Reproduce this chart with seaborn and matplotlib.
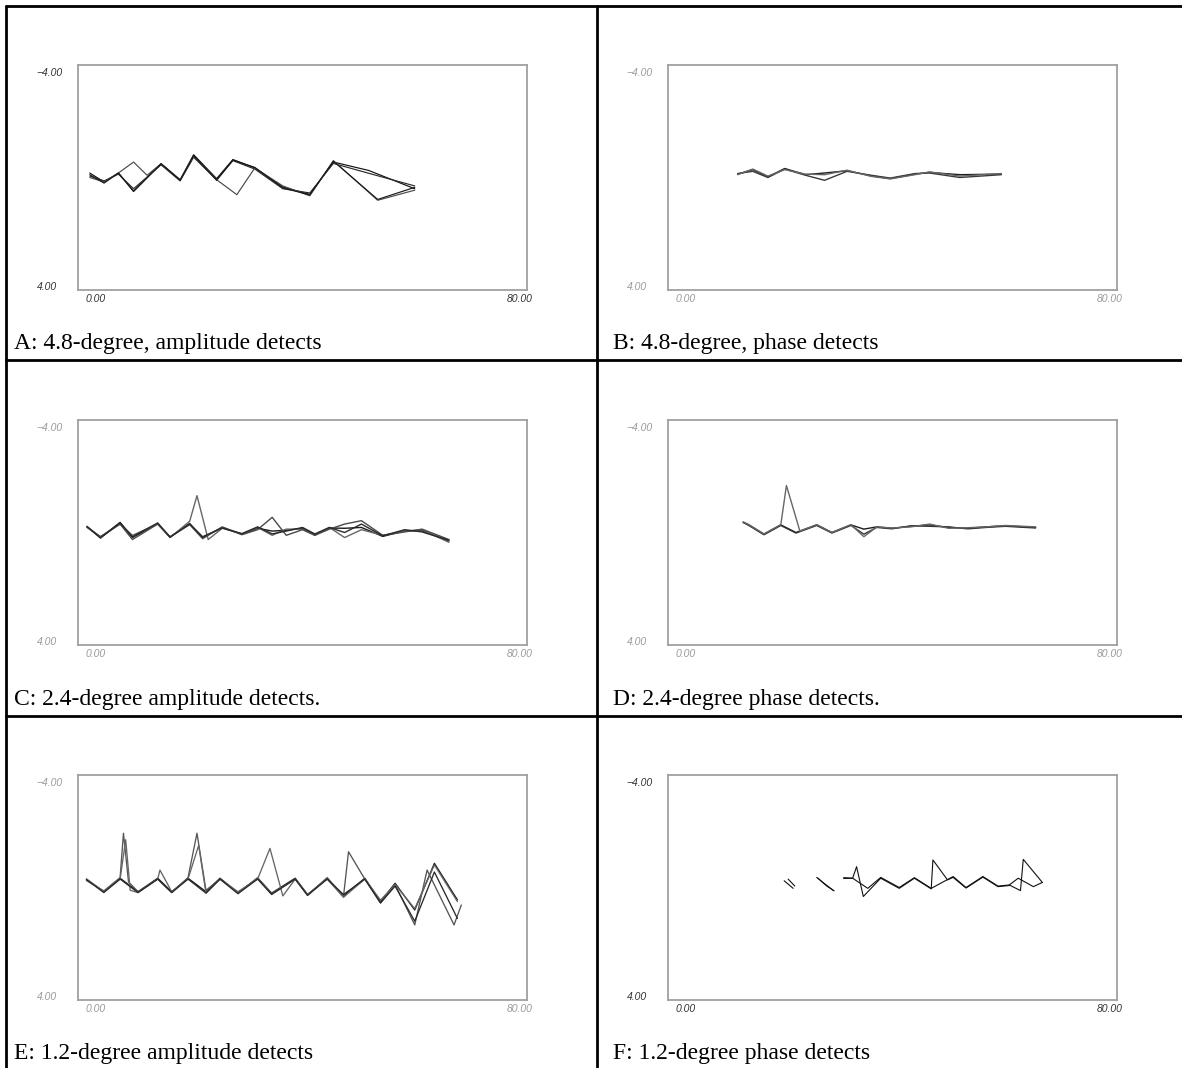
import numpy as np
import pandas as pd
import matplotlib
matplotlib.use("Agg")
import matplotlib.pyplot as plt
from matplotlib.lines import Line2D
import seaborn as sns

sns.set_theme(style="white")
plt.rcParams['font.family'] = ['Liberation Sans', 'DejaVu Sans']

# ---------------- data ----------------
captions = ["A: 4.8-degree, amplitude detects", "B: 4.8-degree, phase detects",
            "C: 2.4-degree amplitude detects.", "D: 2.4-degree phase detects.",
            "E: 1.2-degree amplitude detects", "F: 1.2-degree phase detects"]
y_tick_labels = ["\u22124.00", "4.00"]
x_tick_labels = ["0.00", "80.00"]

# Panel A
A_x1 = [2.1, 4.65, 7.2, 9.9, 14.8, 18.2, 20.6, 24.7, 27.6, 31.5, 36.5, 41.3, 45.5, 51.8, 60.0]
A_y1 = [-0.16, 0.16, -0.16, 0.48, -0.49, 0.08, -0.81, 0.04, -0.64, -0.34, 0.34, 0.60, -0.55, -0.25, 0.40]
A_x2 = [2.1, 4.65, 7.2, 9.9, 14.8, 18.2, 20.6, 24.7, 27.6, 31.5, 36.5, 41.3, 45.5, 51.8, 60.0]
A_y2 = [-0.05, 0.12, -0.12, 0.40, -0.45, 0.12, -0.72, 0.08, -0.60, -0.30, 0.40, 0.55, -0.50, -0.15, 0.30]
A_x3 = [2.1, 4.65, 7.2, 9.9, 12.3, 14.8, 18.2, 20.6, 24.7, 28.3, 31.5, 36.5, 41.3, 45.5, 53.4, 60.0]
A_y3 = [0.0, 0.16, -0.16, -0.55, -0.08, -0.49, 0.08, -0.75, 0.08, 0.61, -0.34, 0.30, 0.65, -0.60, 0.81, 0.45]
A_x4 = [2.1, 4.65, 7.2, 9.9, 14.8, 18.2, 20.6, 24.7, 27.6, 31.5, 36.5, 41.3, 45.5, 53.4, 60.0]
A_y4 = [-0.10, 0.20, -0.16, 0.50, -0.49, 0.10, -0.78, 0.10, -0.62, -0.36, 0.37, 0.62, -0.58, 0.78, 0.35]

# Panel B
B_x = [12.4, 15.1, 17.8, 20.8, 24.5, 27.9, 31.9, 36.2, 39.6, 44.0, 46.6, 52.0, 59.4]
B_y1 = [-0.12, -0.28, -0.02, -0.32, -0.10, -0.16, -0.24, -0.06, 0.04, -0.12, -0.18, -0.10, -0.12]
B_y2 = [-0.14, -0.22, 0.00, -0.30, -0.08, 0.10, -0.22, -0.08, 0.02, -0.14, -0.16, 0.00, -0.10]
B_y3 = [-0.10, -0.30, -0.05, -0.28, -0.12, -0.10, -0.26, -0.04, 0.05, -0.10, -0.20, -0.05, -0.14]

# Panel C
C_x = [1.6, 4.0, 7.5, 9.7, 14.2, 16.4, 19.9, 22.2, 25.7, 29.2, 32.0, 34.6, 37.1, 40.0, 42.2, 44.8, 47.5, 50.5, 54.3, 58.2, 61.3, 66.1]
C_y1 = [-0.20, 0.18, -0.36, 0.18, -0.32, 0.16, -0.32, 0.18, -0.18, 0.06, -0.15, -0.05, -0.08, -0.15, 0.08, -0.16, -0.15, -0.18, 0.14, -0.06, -0.06, 0.30]
C_y3 = [-0.20, 0.15, -0.30, 0.25, -0.30, 0.15, -0.28, 0.22, -0.20, 0.08, -0.10, -0.54, 0.10, -0.10, 0.10, -0.12, -0.30, -0.42, 0.10, -0.02, -0.12, 0.25]
C_y4 = [-0.22, 0.20, -0.34, 0.15, -0.34, 0.17, -0.30, 0.15, -0.16, 0.04, -0.20, 0.05, -0.05, -0.18, 0.05, -0.18, 0.00, -0.30, 0.12, -0.10, -0.02, 0.28]
C_x2 = [1.6, 4.0, 7.5, 9.7, 14.2, 16.4, 19.9, 21.2, 23.2, 25.7, 29.2, 32.0, 34.6, 37.1, 40.0, 42.2, 44.8, 47.5, 50.5, 54.3, 58.2, 61.3, 66.1]
C_y2 = [-0.18, 0.15, -0.30, 0.10, -0.30, 0.18, -0.40, -1.31, 0.25, -0.15, 0.05, -0.18, 0.10, -0.12, -0.12, 0.10, -0.18, 0.18, -0.10, 0.10, -0.05, -0.10, 0.35]

# Panel D
D_x = [13.4, 14.4, 17.1, 20.1, 22.8, 26.5, 29.2, 32.6, 34.9, 37.2, 39.9, 43.3, 46.6, 50.0, 53.4, 56.7, 60.1, 65.5]
D_y1 = [-0.36, -0.27, 0.06, -0.27, 0.00, -0.27, 0.00, -0.27, -0.12, -0.20, -0.15, -0.22, -0.27, -0.18, -0.15, -0.20, -0.24, -0.18]
D_y2 = [-0.36, -0.25, 0.08, -0.25, 0.02, -0.25, 0.02, -0.25, 0.06, -0.18, -0.13, -0.24, -0.22, -0.20, -0.13, -0.18, -0.22, -0.16]
D_x3 = [13.4, 14.4, 17.1, 20.1, 21.1, 23.5, 26.5, 29.2, 32.6, 34.9, 37.2, 39.9, 43.3, 46.6, 50.0, 53.4, 56.7, 60.1, 65.5]
D_y3 = [-0.38, -0.28, 0.05, -0.28, -1.67, -0.05, -0.28, 0.00, -0.28, 0.15, -0.20, -0.16, -0.20, -0.30, -0.15, -0.17, -0.20, -0.25, -0.20]

# Panel E
E_x = [1.5, 4.6, 7.5, 10.7, 14.2, 16.7, 19.6, 22.8, 25.3, 28.5, 32.0, 34.5, 38.7, 40.9, 44.4, 47.3, 51.1, 53.9, 56.5, 60.0, 63.5, 67.6]
E_y1 = [-0.30, 0.15, -0.33, 0.15, -0.33, 0.15, -0.33, 0.15, -0.33, 0.18, -0.33, 0.20, -0.33, 0.25, -0.33, 0.30, -0.33, 0.50, -0.15, 0.80, -0.86, 0.44]
E_y4 = [-0.28, 0.18, -0.30, 0.18, -0.30, 0.18, -0.30, 0.20, -0.30, 0.22, -0.30, 0.25, -0.30, 0.28, -0.30, 0.25, -0.30, 0.55, -0.05, 1.20, -0.55, 1.10]
E_x2 = [1.5, 4.6, 7.5, 8.1, 9.0, 10.7, 14.2, 16.7, 19.6, 21.2, 22.8, 25.3, 28.5, 32.0, 34.5, 38.7, 40.9, 44.4, 47.3, 48.2, 51.1, 53.9, 56.5, 60.0, 62.2, 67.0, 68.3]
E_y2 = [-0.25, 0.12, -0.35, -1.93, -0.20, 0.15, -0.30, 0.18, -0.35, -1.93, 0.10, -0.30, 0.20, -0.35, 0.22, -0.30, 0.28, -0.35, 0.32, -1.27, -0.30, 0.55, -0.10, 1.33, -0.62, 1.33, 0.62]
E_x3 = [1.5, 4.6, 7.5, 8.5, 9.3, 10.7, 14.2, 14.6, 16.7, 19.6, 21.5, 22.8, 25.3, 28.5, 32.0, 34.2, 36.5, 38.7, 40.9, 44.4, 47.3, 51.1, 53.9, 56.5, 60.0, 63.5, 67.6]
E_y3 = [-0.30, 0.15, -0.30, -1.70, 0.10, 0.18, -0.30, -0.62, 0.15, -0.30, -1.50, 0.20, -0.30, 0.15, -0.30, -1.39, 0.30, -0.30, 0.25, -0.30, 0.35, -0.30, 0.45, -0.10, 0.75, -0.80, 0.50]

# Panel F
F_x1 = [20.7, 22.3]
F_y1 = [-0.24, 0.03]
F_x2 = [21.4, 22.6]
F_y2 = [-0.30, -0.05]
F_x3 = [26.5, 27.8, 29.5]
F_y3 = [-0.36, -0.15, 0.11]
F_x4 = [26.7, 28.3, 29.6]
F_y4 = [-0.33, -0.05, 0.12]
F_x5 = [31.3, 32.9, 35.6, 37.9, 41.2, 43.9, 46.9, 50.8, 53.1, 56.1, 58.8, 60.8, 62.4, 65.1, 66.7]
F_y5 = [-0.35, -0.33, 0.03, -0.36, 0.00, -0.35, 0.03, -0.39, 0.00, -0.39, -0.05, -0.09, -0.33, -0.03, -0.18]
F_x6 = [31.3, 32.9, 33.6, 34.8, 37.9, 41.2, 43.9, 46.9, 47.2, 49.8, 50.8, 53.1, 56.1, 58.8, 60.8]
F_y6 = [-0.32, -0.33, -0.74, 0.32, -0.33, 0.03, -0.33, 0.05, -0.98, -0.27, -0.36, 0.02, -0.37, -0.03, -0.07]
F_x7 = [60.8, 62.8, 63.3, 66.7]
F_y7 = [-0.09, 0.11, -1.00, -0.18]

panels = [
    [(A_x1, A_y1), (A_x2, A_y2), (A_x3, A_y3), (A_x4, A_y4)],
    [(B_x, B_y1), (B_x, B_y2), (B_x, B_y3)],
    [(C_x, C_y1), (C_x2, C_y2), (C_x, C_y3), (C_x, C_y4)],
    [(D_x, D_y1), (D_x, D_y2), (D_x3, D_y3)],
    [(E_x, E_y1), (E_x2, E_y2), (E_x3, E_y3), (E_x, E_y4)],
    [(F_x1, F_y1), (F_x2, F_y2), (F_x3, F_y3), (F_x4, F_y4), (F_x5, F_y5), (F_x6, F_y6), (F_x7, F_y7)],
]

# ---------------- layout ----------------
W, H = 1182, 1068
fig = plt.figure(figsize=(W / 100, H / 100), dpi=100)
fig.patch.set_facecolor("white")

def fx(px):
    return px / W

def fy(py):
    return 1 - py / H

col_left = [78, 668]
box_w = 449
row_top = [65, 420, 775]
box_h = 225
row_lines = [6, 360, 716]
cap_y = [344, 699, 1054]
cap_x = [14, 613]

faded = [False, True, True, True, True, False]
trace_palettes = [
    ["#111111", "#2a2a2a", "#4a4a4a", "#1a1a1a"],
    ["#1a1a1a", "#3a3a3a", "#666666"],
    ["#1a1a1a", "#666666", "#4a4a4a", "#2a2a2a"],
    ["#1a1a1a", "#333333", "#666666"],
    ["#1a1a1a", "#555555", "#666666", "#2a2a2a"],
    ["#111111"] * 7,
]
line_w = [0.85, 1.0, 1.0, 1.0, 0.95, 0.8]

for i, traces in enumerate(panels):
    r, c = divmod(i, 2)
    L, T = col_left[c], row_top[r]
    ax = fig.add_axes([fx(L), fy(T + box_h), box_w / W, box_h / H])
    rows = []
    for k, (xs, ys) in enumerate(traces):
        for xv, yv in zip(xs, ys):
            rows.append({"x": xv, "y": yv, "trace": f"t{k}"})
    df = pd.DataFrame(rows)
    pal = {f"t{k}": trace_palettes[i][k] for k in range(len(traces))}
    sns.lineplot(data=df, x="x", y="y", hue="trace", units="trace", estimator=None,
                 sort=False, palette=pal, legend=False, linewidth=line_w[i], ax=ax)
    ax.set_xlim(0, 80)
    ax.set_ylim(4, -4)
    ax.set_xticks([])
    ax.set_yticks([])
    ax.set_xlabel("")
    ax.set_ylabel("")
    for sp in ax.spines.values():
        sp.set_color("#a0a0a0")
        sp.set_linewidth(1.3)
    tcol = "#9a9a9a" if faded[i] else "#333333"
    kw = dict(fontsize=7.5, style="italic", color=tcol, family=["Liberation Sans", "DejaVu Sans"])
    fig.text(fx(L - 42), fy(T + 8), y_tick_labels[0], ha="left", va="center", **kw)
    fig.text(fx(L - 41), fy(T + box_h - 3), y_tick_labels[1], ha="left", va="center", **kw)
    fig.text(fx(L + 8), fy(T + box_h + 9), x_tick_labels[0], ha="left", va="center", **kw)
    fig.text(fx(L + box_w + 6), fy(T + box_h + 9), x_tick_labels[1], ha="right", va="center", **kw)
    fig.text(fx(cap_x[c]), fy(cap_y[r]), captions[i], ha="left", va="center",
             fontsize=17, color="black", family=["Liberation Serif", "DejaVu Serif"])

# table grid lines
lw = 2.0
for yl in row_lines:
    fig.add_artist(Line2D([fx(6), 1.0], [fy(yl), fy(yl)], color="black", linewidth=lw))
for xl in [6, 597]:
    fig.add_artist(Line2D([fx(xl), fx(xl)], [fy(6), 0.0], color="black", linewidth=lw))

fig.savefig("out.png", dpi=100, facecolor="white")
